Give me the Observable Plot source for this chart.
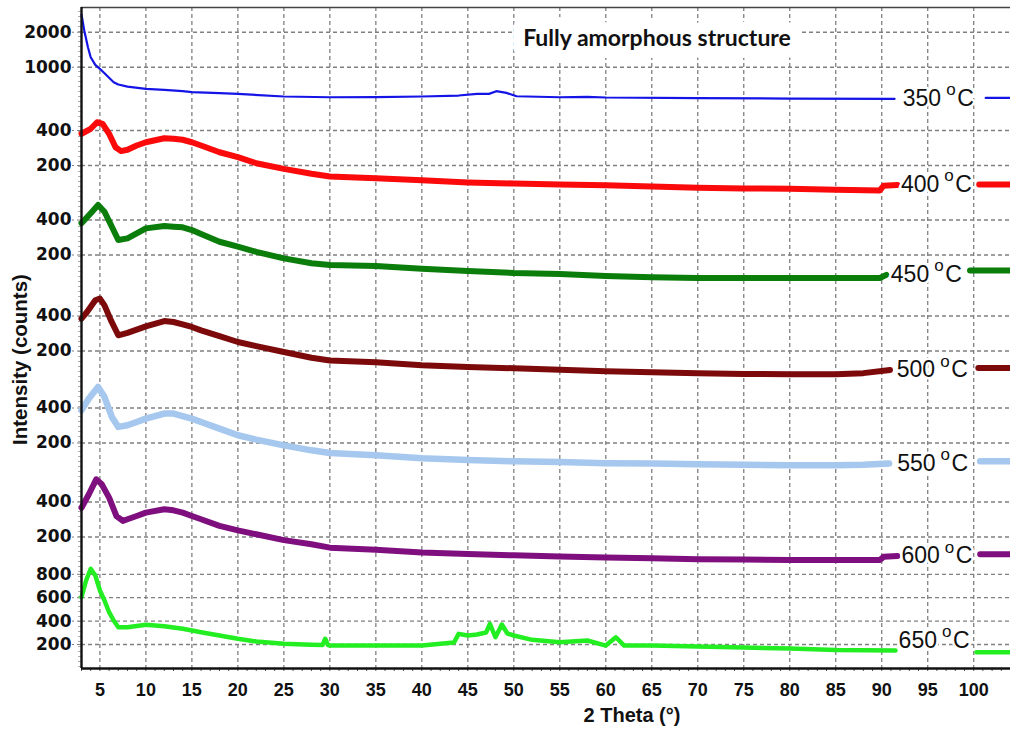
<!DOCTYPE html>
<html>
<head>
<meta charset="utf-8">
<script src="https://cdn.jsdelivr.net/npm/d3@7"></script>
<script src="https://cdn.jsdelivr.net/npm/@observablehq/plot@0.6"></script>
<style>
  html, body { margin: 0; padding: 0; background: #fff; }
  #chart svg { display: block; }
</style>
</head>
<body>
<div id="chart"></div>
<script>
// ---------- DATA ----------
const temperatures = ["350", "400", "450", "500", "550", "600", "650"];

const theta350 = [3, 3.3, 3.7, 4, 4.5, 5, 5.5, 6, 6.5, 7, 8, 10, 12, 14, 15, 18, 20, 25, 30, 35, 40, 44, 46, 47.3, 48.1, 49.2, 50.3, 55, 58, 60, 70, 80, 91.4, 101.3, 104];
const counts350 = [2840, 2069, 1486, 1219, 1049, 969, 888, 811, 743, 710, 682, 652, 639, 622, 610, 600, 590, 560, 552, 554, 560, 571, 590, 590, 622, 602, 563, 552, 556, 549, 543, 538, 535, 545, 545];

const theta400 = [3, 4, 4.7, 5.3, 6, 6.7, 7.3, 8, 9, 10, 12, 13, 14, 15, 16, 18, 20, 22, 25, 28, 30, 35, 40, 45, 50, 55, 60, 65, 70, 75, 80, 85, 89.8, 90.2, 91.7, 100.6, 104];
const counts400 = [375, 414, 471, 457, 375, 287, 266, 273, 297, 317, 343, 339, 333, 317, 297, 260, 236, 209, 187, 170, 161, 155, 149, 143, 140, 137, 135, 132, 129, 127, 126, 124, 122, 134, 136, 137, 137];

const theta450 = [3, 4, 4.8, 5.5, 6.3, 7, 8, 9, 10, 12, 13, 14, 15, 16, 18, 20, 22, 25, 28, 30, 35, 40, 45, 50, 55, 60, 65, 70, 80, 89.8, 90.5, 99.6, 104];
const counts450 = [375, 457, 538, 471, 350, 269, 278, 307, 339, 355, 350, 346, 328, 303, 260, 236, 213, 187, 170, 164, 161, 152, 146, 140, 137, 132, 129, 127, 127, 127, 135, 147, 147];

const theta500 = [3, 3.6, 4.5, 5, 5.5, 6.2, 7, 8, 9, 10, 12, 13, 14, 15, 16, 18, 20, 22, 25, 28, 30, 35, 40, 45, 50, 55, 60, 65, 70, 75, 80, 85, 88, 90.9, 100.5, 104];
const counts500 = [380, 433, 546, 565, 494, 367, 273, 286, 305, 326, 362, 355, 339, 322, 301, 268, 239, 220, 196, 175, 166, 160, 151, 146, 142, 138, 134, 131, 129, 127, 126, 126, 129, 137, 143, 143];

const theta550 = [3, 3.8, 4.8, 5.5, 6.3, 7, 8, 9, 10, 12, 13, 14, 15, 16, 18, 20, 22, 25, 28, 30, 35, 40, 45, 50, 55, 60, 65, 70, 75, 80, 85, 88, 90.8, 100.7, 104];
const counts550 = [382, 482, 606, 497, 335, 275, 284, 303, 324, 358, 358, 341, 324, 303, 266, 233, 214, 191, 173, 164, 157, 148, 143, 139, 137, 134, 133, 131, 130, 129, 129, 130, 133, 139, 139];

const theta600 = [3, 3.8, 4.6, 5.2, 6, 6.8, 7.5, 8, 9, 10, 12, 13, 14, 15, 16, 18, 20, 22, 25, 28, 30, 35, 40, 45, 50, 55, 60, 65, 70, 75, 80, 85, 89.8, 90.2, 91.7, 100.7, 104];
const counts600 = [357, 466, 627, 568, 436, 303, 275, 284, 303, 324, 346, 339, 324, 303, 284, 249, 228, 211, 188, 173, 162, 155, 147, 143, 139, 136, 133, 131, 129, 128, 127, 127, 127, 135, 137, 142, 142];

const theta650 = [3, 3.5, 4, 4.5, 5, 5.5, 6, 6.5, 7, 8, 10, 12, 14, 16, 18, 20, 22, 25, 28, 29.2, 29.5, 29.8, 30, 35, 40, 43.5, 44, 45, 46, 47, 47.4, 48, 48.7, 49.3, 50, 52, 55, 58, 60, 61.1, 62, 65, 70, 75, 80, 85, 91.5, 100.3, 104];
const counts650 = [604, 747, 847, 790, 662, 576, 476, 405, 348, 348, 368, 356, 334, 305, 277, 249, 226, 206, 197, 195, 249, 195, 191, 191, 191, 217, 291, 277, 285, 303, 377, 262, 371, 294, 277, 240, 220, 234, 191, 262, 191, 191, 183, 174, 166, 153, 149, 134, 134];

// y tick labels of each stacked pattern
const ticks350 = [1000, 2000];
const ticks400 = [200, 400];
const ticks450 = [200, 400];
const ticks500 = [200, 400];
const ticks550 = [200, 400];
const ticks600 = [200, 400];
const ticks650 = [200, 400, 600, 800];

const xTicks = [5, 10, 15, 20, 25, 30, 35, 40, 45, 50, 55, 60, 65, 70, 75, 80, 85, 90, 95, 100];

const titleText = "Fully amorphous structure";
const xLabel = "2 Theta (\u00B0)";
const yLabel = "Intensity (counts)";

// ---------- LAYOUT / STYLE ----------
const K = 35;               // offset units per doubling of counts (log panels)
const yDomain = [0, 661];
const xDomain = [3, 104];

const panels = [
  {temp: "350", theta: theta350, counts: counts350, ticks: ticks350, base: 520,   color: "#1414e6", sw: 2.2, gap: [91.4, 101.3], lift: 0},
  {temp: "400", theta: theta400, counts: counts400, ticks: ticks400, base: 503,   color: "#fa0a0a", sw: 6,   gap: [91.7, 100.6], lift: 0},
  {temp: "450", theta: theta450, counts: counts450, ticks: ticks450, base: 413.5, color: "#0b7d0b", sw: 6,   gap: [90.5, 99.6],  lift: 0},
  {temp: "500", theta: theta500, counts: counts500, ticks: ticks500, base: 317.5, color: "#7d0a0a", sw: 6,   gap: [90.9, 100.5], lift: 0},
  {temp: "550", theta: theta550, counts: counts550, ticks: ticks550, base: 225.5, color: "#a6c8ef", sw: 6.5, gap: [90.8, 100.7], lift: 0},
  {temp: "600", theta: theta600, counts: counts600, ticks: ticks600, base: 131.5, color: "#7f0f7f", sw: 6,   gap: [91.7, 100.7], lift: 0},
  {temp: "650", theta: theta650, counts: counts650, ticks: ticks650, base: 24,    color: "#22ee22", sw: 4.5, gap: [91.5, 100.3], lift: 10, linear: 0.117}
];

function toOffset(p, v) {
  return p.linear ? p.base + (v - 200) * p.linear : p.base + K * Math.log2(v / 200);
}

// rows for the lines, with a break where each pattern is hidden behind its label
const lineMarks = [];
const labelRows = [];
const yTickPos = [];
const yTickLabel = new Map();
panels.forEach((p) => {
  const rows = [];
  let lastMain = null;
  p.theta.forEach((t, i) => {
    if (t > p.gap[0] && (i === 0 || p.theta[i - 1] <= p.gap[0])) {
      rows.push({x: (p.gap[0] + p.gap[1]) / 2, y: NaN});
    }
    if (t <= p.gap[0]) lastMain = p.counts[i];
    rows.push({x: t, y: toOffset(p, p.counts[i])});
  });
  lineMarks.push(Plot.line(rows, {x: "x", y: "y", stroke: p.color, strokeWidth: p.sw, strokeLinejoin: "round"}));
  labelRows.push({x: (p.gap[0] + p.gap[1]) / 2, y: toOffset(p, lastMain) + p.lift, num: p.temp});
  p.ticks.forEach((v) => {
    const pos = toOffset(p, v);
    yTickPos.push(pos);
    yTickLabel.set(pos, String(v));
  });
});

const gridStyle = {stroke: "#808080", strokeOpacity: 1, strokeWidth: 1.3, strokeDasharray: "4,3"};

const chart = Plot.plot({
  width: 1010,
  height: 729,
  marginLeft: 81,
  marginRight: 0,
  marginTop: 7,
  marginBottom: 61,
  style: {background: "#fff", overflow: "visible"},
  x: {domain: xDomain},
  y: {domain: yDomain},
  marks: [
    Plot.gridX({ticks: xTicks, ...gridStyle}),
    Plot.gridY({ticks: yTickPos, ...gridStyle}),
    // minor ticks
    Plot.axisX({ticks: d3.range(3, 105, 1), tickSize: 3, tickFormat: () => "", stroke: "#555", label: null}),
    Plot.axisY({ticks: d3.range(2, 661, 5), tickSize: 3, tickFormat: () => "", stroke: "#aaa", label: null}),
    // main axes
    Plot.axisX({ticks: xTicks, tickSize: 0, tickPadding: 15, fontSize: 18, fontWeight: "bold",
      fontFamily: "Liberation Sans, Arial, sans-serif", fill: "#111", label: null}),
    Plot.axisY({ticks: yTickPos, tickFormat: (d) => yTickLabel.get(d), tickSize: 9, tickPadding: 1,
      stroke: "#808080", strokeDasharray: "4,3", fontSize: 17, fontWeight: "bold",
      fontFamily: "DejaVu Sans, sans-serif", fill: "#111", label: null}),
    ...lineMarks,
    // frame lines
    Plot.ruleY([yDomain[1]], {stroke: "#444", strokeWidth: 1.5}),
    Plot.ruleX([xDomain[0]], {stroke: "#111", strokeWidth: 2.4}),
    Plot.ruleY([yDomain[0]], {stroke: "#111", strokeWidth: 2.4}),
    // temperature labels
    Plot.text(labelRows, {x: "x", y: "y", text: "num", textAnchor: "end", dx: 1, fontSize: 23,
      fontFamily: "Liberation Sans, Arial, sans-serif", fill: "#111", stroke: "#fff", strokeWidth: 5, paintOrder: "stroke"}),
    Plot.text(labelRows, {x: "x", y: "y", text: () => "o", textAnchor: "start", dx: 6, dy: -9, fontSize: 17,
      fontFamily: "Liberation Sans, Arial, sans-serif", fill: "#111", stroke: "#fff", strokeWidth: 5, paintOrder: "stroke"}),
    Plot.text(labelRows, {x: "x", y: "y", text: () => "C", textAnchor: "start", dx: 17, fontSize: 23,
      fontFamily: "Liberation Sans, Arial, sans-serif", fill: "#111", stroke: "#fff", strokeWidth: 5, paintOrder: "stroke"}),
    // title inside the plot
    Plot.text([titleText], {frameAnchor: "top", lineAnchor: "middle", dx: 111, dy: 31, fontSize: 23,
      fontWeight: "bold", fontFamily: "Lato, Open Sans, sans-serif", fill: "#111",
      stroke: "#fff", strokeWidth: 24, strokeLinejoin: "round", paintOrder: "stroke"}),
    // axis titles
    Plot.text([xLabel], {frameAnchor: "bottom", lineAnchor: "middle", dx: 86, dy: 47, fontSize: 20,
      fontWeight: "bold", fontFamily: "Liberation Sans, Arial, sans-serif", fill: "#111"}),
    Plot.text([yLabel], {frameAnchor: "left", textAnchor: "middle", lineAnchor: "middle", rotate: -90,
      dx: -61.5, dy: 21.5, fontSize: 20.5, fontWeight: "bold", fontFamily: "Liberation Sans, Arial, sans-serif", fill: "#111"})
  ]
});

document.getElementById("chart").appendChild(chart);
</script>
</body>
</html>
